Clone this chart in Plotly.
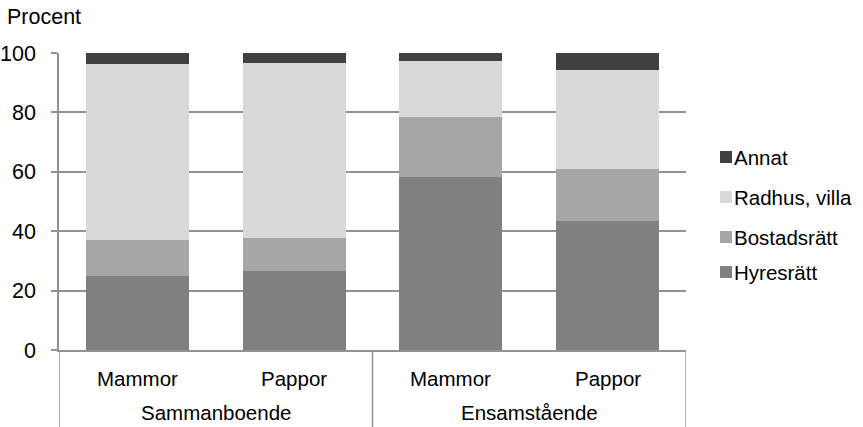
import plotly.graph_objects as go

groups = ["Sammanboende", "Ensamstående"]
subs = ["Mammor", "Pappor", "Mammor", "Pappor"]
categories = ["Sammanboende – Mammor", "Sammanboende – Pappor",
              "Ensamstående – Mammor", "Ensamstående – Pappor"]

hyresratt = [25.0, 26.7, 58.1, 43.5]
bostadsratt = [11.9, 11.0, 20.4, 17.5]
radhus_villa = [59.3, 58.8, 18.7, 33.3]
annat = [3.8, 3.5, 2.8, 5.7]

series = [
    ("Hyresrätt", hyresratt, "#808080"),
    ("Bostadsrätt", bostadsratt, "#a6a6a6"),
    ("Radhus, villa", radhus_villa, "#d9d9d9"),
    ("Annat", annat, "#404040"),
]

y_ticks = [0, 20, 40, 60, 80, 100]

FONT = "Liberation Sans, Arial, sans-serif"
FS = 20.5
GRID = "#929292"

fig = go.Figure()
for name, vals, col in series:
    fig.add_trace(go.Bar(
        x=categories, y=vals, name=name,
        marker=dict(color=col, line=dict(width=0)),
        showlegend=False,
    ))

W, H = 863, 427
L, R, T, B = 59, 177, 53, 77
pw = W - L - R
ph = H - T - B

fig.update_layout(
    width=W, height=H,
    margin=dict(l=L, r=R, t=T, b=B, autoexpand=False),
    barmode="stack", bargap=0.344,
    plot_bgcolor="white", paper_bgcolor="white",
    font=dict(family=FONT, size=FS, color="#000000"),
)
fig.update_yaxes(
    range=[0, 100], tickvals=y_ticks, showgrid=True, gridcolor=GRID, gridwidth=1.5,
    showline=True, linecolor=GRID, linewidth=1.5,
    ticks="outside", ticklen=6, tickcolor=GRID, tickwidth=1.5,
    ticklabelstandoff=11, zeroline=False, automargin=False,
    tickfont=dict(family=FONT, size=21.5),
)
fig.update_xaxes(
    showline=True, linecolor=GRID, linewidth=1.5,
    showticklabels=False, ticks="", automargin=False,
    range=[-0.5, 3.5],
)

def py(ypix):
    """pixel row -> paper y"""
    return (T + ph - ypix) / ph

def px(xpix):
    return (xpix - L) / pw

# sub-category labels
for i, s in enumerate(subs):
    fig.add_annotation(text=s, xref="x", yref="paper", x=i, y=py(378),
                       xanchor="center", yanchor="middle", showarrow=False,
                       font=dict(family=FONT, size=FS))
# group labels
for j, g in enumerate(groups):
    fig.add_annotation(text=g, xref="x", yref="paper", x=2 * j + 0.5, y=py(412),
                       xanchor="center", yanchor="middle", showarrow=False,
                       font=dict(family=FONT, size=FS))
# dividers
for xd in [-0.5, 1.5, 3.5]:
    fig.add_shape(type="line", xref="x", yref="paper", x0=xd, x1=xd, y0=0, y1=py(H),
                  line=dict(color=GRID, width=1.5))

fig.add_annotation(
    text="Procent", xref="paper", yref="paper",
    x=px(5), y=py(17),
    xanchor="left", yanchor="middle", showarrow=False,
    font=dict(family=FONT, size=21.5),
)

# legend (manual)
leg_items = [("Annat", "#404040", 157), ("Radhus, villa", "#d9d9d9", 197),
             ("Bostadsrätt", "#a6a6a6", 237), ("Hyresrätt", "#808080", 272)]
for name, col, ypix in leg_items:
    fig.add_shape(type="rect", xref="paper", yref="paper",
                  x0=px(720), x1=px(732), y0=py(ypix + 6), y1=py(ypix - 6),
                  fillcolor=col, line=dict(width=0))
    fig.add_annotation(text=name, xref="paper", yref="paper",
                       x=px(732), y=py(ypix),
                       xanchor="left", yanchor="middle", showarrow=False,
                       font=dict(family=FONT, size=FS))

fig.write_html("out.html", config={"displayModeBar": False},
               post_script="document.body.style.margin='0';document.body.style.overflow='hidden';")
